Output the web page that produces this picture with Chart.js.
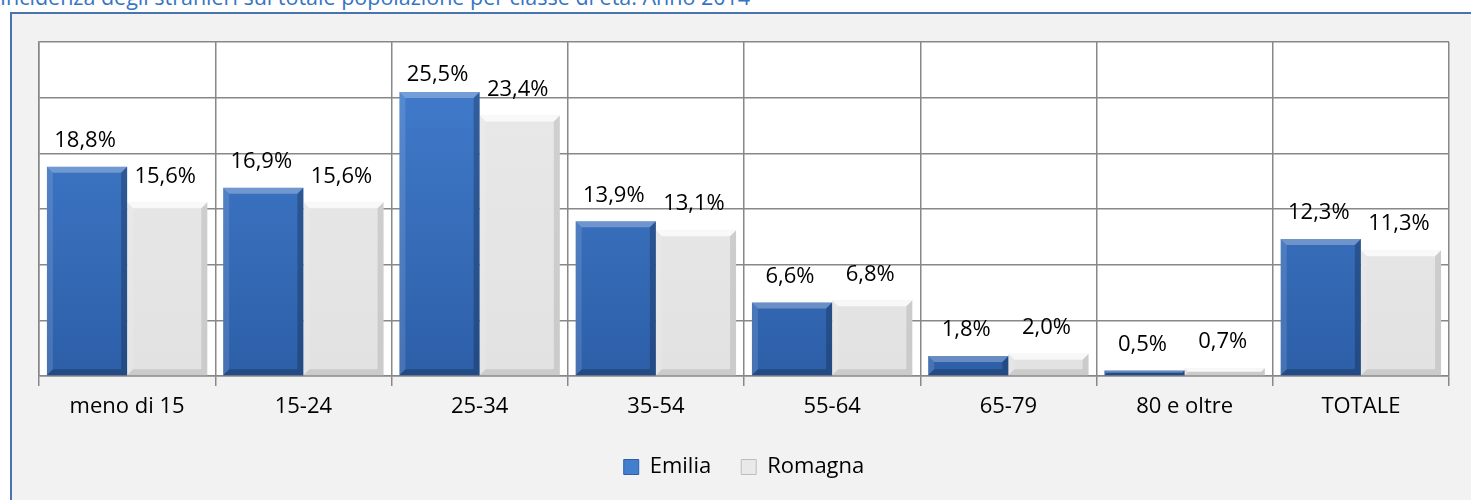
<!DOCTYPE html>
<html>
<head>
<meta charset="utf-8">
<script src="https://cdn.jsdelivr.net/npm/chart.js@4.4.1/dist/chart.umd.min.js"></script>
<style>
    body { margin: 0; background: #fff; width: 1471px; height: 500px; overflow: hidden; position: relative; font-family: "Open Sans", sans-serif; }
    #title { position: absolute; left: 0; top: -14px; font-size: 21.5px; line-height: 22px; color: #3574c4; white-space: nowrap; }
    #frame { position: absolute; left: 10px; top: 12px; width: 1480px; height: 500px; border-left: 2px solid #4a74b0; border-top: 2px solid #4a74b0; background: #f2f2f2; }
    #chart { position: absolute; left: 0; top: 0; }
</style>
</head>
<body>
<div id="title">Incidenza degli stranieri sul totale popolazione per classe di età. Anno 2014</div>
<div id="frame"></div>
<canvas id="chart" width="1471" height="500"></canvas>
<script>
// Data
const categories = ['meno di 15', '15-24', '25-34', '35-54', '55-64', '65-79', '80 e oltre', 'TOTALE'];
const emilia = [18.8, 16.9, 25.5, 13.9, 6.6, 1.8, 0.5, 12.3];
const romagna = [15.6, 15.6, 23.4, 13.1, 6.8, 2.0, 0.7, 11.3];
const yTicks = [0, 5, 10, 15, 20, 25, 30];

const FONT = '"Open Sans", sans-serif';
const fmt = v => v.toFixed(1).replace('.', ',') + '%';

// Colours per series
const palette = [
    { top: '#437ecf', bottom: '#2d5fa8', light: 'rgba(255,255,255,0.28)', dark: 'rgba(0,0,0,0.22)' },
    { top: '#e9e9e9', bottom: '#e2e2e2', light: 'rgba(255,255,255,0.75)', dark: 'rgba(0,0,0,0.10)' }
];

function barFill(i) {
    return (ctx) => {
        const area = ctx.chart.chartArea;
        if (!area) return palette[i].top;
        const g = ctx.chart.ctx.createLinearGradient(0, area.top, 0, area.bottom);
        g.addColorStop(0, palette[i].top);
        g.addColorStop(1, palette[i].bottom);
        return g;
    };
}

// White plot background
const plotBg = {
    id: 'plotBg',
    beforeDraw(chart) {
        const { ctx, chartArea: a } = chart;
        ctx.save();
        ctx.fillStyle = '#ffffff';
        ctx.fillRect(a.left, a.top, a.right - a.left, a.bottom - a.top);
        ctx.restore();
    }
};

// Bevel edges + value labels
const bevel = {
    id: 'bevel',
    afterDatasetsDraw(chart) {
        const { ctx, chartArea } = chart;
        ctx.save();
        chart.data.datasets.forEach((ds, di) => {
            const meta = chart.getDatasetMeta(di);
            meta.data.forEach((bar, j) => {
                const l = bar.x - bar.width / 2, r = bar.x + bar.width / 2;
                const t = bar.y, b = bar.base;
                const h = b - t;
                const s = Math.min(6, h / 2);
                // top
                ctx.fillStyle = palette[di].light;
                ctx.beginPath();
                ctx.moveTo(l, t); ctx.lineTo(r, t); ctx.lineTo(r - s, t + s); ctx.lineTo(l + s, t + s); ctx.closePath();
                ctx.fill();
                // left
                ctx.fillStyle = 'rgba(255,255,255,0.12)';
                ctx.beginPath();
                ctx.moveTo(l, t); ctx.lineTo(l + s, t + s); ctx.lineTo(l + s, b - s); ctx.lineTo(l, b); ctx.closePath();
                ctx.fill();
                // right
                ctx.fillStyle = palette[di].dark;
                ctx.beginPath();
                ctx.moveTo(r, t); ctx.lineTo(r - s, t + s); ctx.lineTo(r - s, b - s); ctx.lineTo(r, b); ctx.closePath();
                ctx.fill();
                // bottom
                ctx.beginPath();
                ctx.moveTo(l, b); ctx.lineTo(l + s, b - s); ctx.lineTo(r - s, b - s); ctx.lineTo(r, b); ctx.closePath();
                ctx.fill();

                // value label
                ctx.fillStyle = '#000';
                ctx.font = '22px ' + FONT;
                ctx.textAlign = 'center';
                ctx.textBaseline = 'middle';
                const ly = Math.max(t - 26, chartArea.top + 33);
                ctx.fillText(fmt(ds.data[j]), bar.x - 2, ly);
            });
        });
        ctx.restore();
    }
};

new Chart(document.getElementById('chart'), {
    type: 'bar',
    data: {
        labels: categories,
        datasets: [
            { label: 'Emilia', data: emilia, backgroundColor: barFill(0), borderWidth: 0 },
            { label: 'Romagna', data: romagna, backgroundColor: barFill(1), borderWidth: 0 }
        ]
    },
    options: {
        responsive: false,
        animation: false,
        devicePixelRatio: 1,
        layout: { padding: { left: 39, right: 22, top: 42, bottom: 12 } },
        datasets: { bar: { categoryPercentage: 0.91, barPercentage: 1 } },
        plugins: {
            tooltip: { enabled: false },
            legend: {
                position: 'bottom',
                labels: {
                    font: { family: FONT, size: 22 },
                    color: '#000',
                    boxWidth: 15,
                    boxHeight: 15,
                    padding: 30,
                    generateLabels: (chart) => chart.data.datasets.map((ds, i) => ({
                        text: ds.label,
                        fillStyle: palette[i].top,
                        strokeStyle: i === 0 ? '#2d60a9' : '#bdbdbd',
                        lineWidth: 1,
                        datasetIndex: i
                    }))
                }
            }
        },
        scales: {
            x: {
                grid: { color: '#888888', lineWidth: 1.5, tickLength: 10, offset: true },
                border: { color: '#888888', width: 1.5 },
                ticks: { font: { family: FONT, size: 22 }, color: '#000', padding: 8 },
                afterFit: (s) => { s.height = 50; }
            },
            y: {
                min: 0,
                max: 30,
                afterBuildTicks: (s) => { s.ticks = yTicks.map(v => ({ value: v })); },
                grid: { color: '#888888', lineWidth: 1.5, drawTicks: false },
                border: { color: '#888888', width: 1.5 },
                ticks: { display: false }
            }
        }
    },
    plugins: [plotBg, bevel]
});
</script>
</body>
</html>
